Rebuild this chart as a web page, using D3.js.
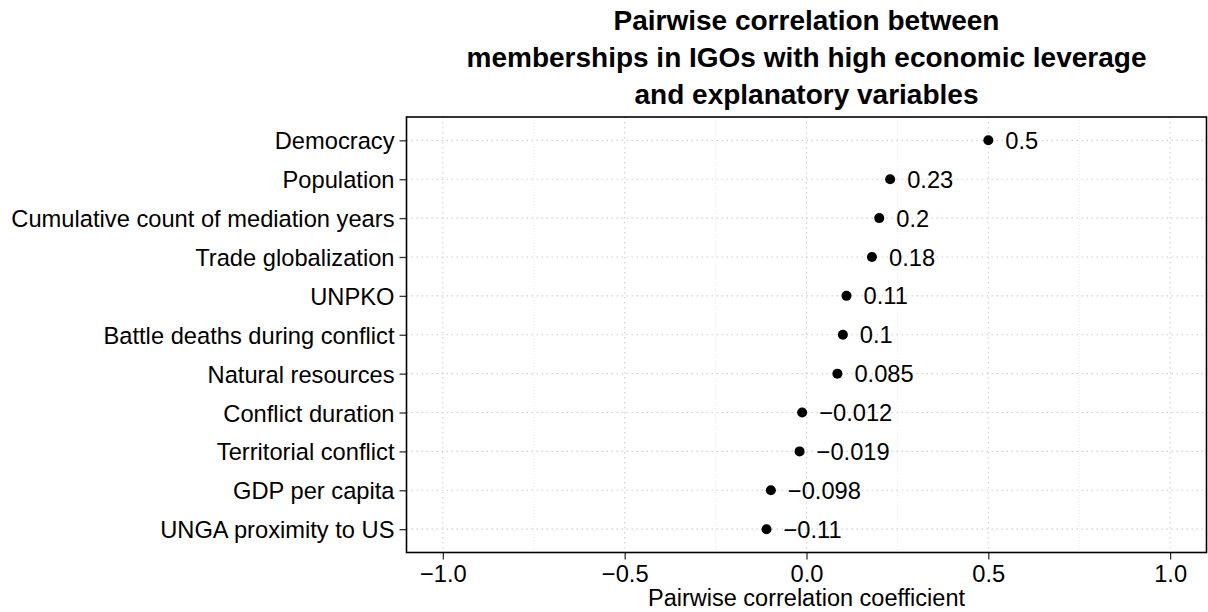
<!DOCTYPE html>
<html><head><meta charset="utf-8">
<script src="https://cdn.jsdelivr.net/npm/d3@7"></script>
<style>body{margin:0;background:#fff}svg{display:block}text{font-family:"Liberation Sans",Arial,sans-serif;fill:#000}</style>
</head><body><svg id="c" width="1208" height="612"></svg>
<script>
const categories = ["Democracy","Population","Cumulative count of mediation years","Trade globalization","UNPKO","Battle deaths during conflict","Natural resources","Conflict duration","Territorial conflict","GDP per capita","UNGA proximity to US"];
const values = [0.5,0.23,0.2,0.18,0.11,0.1,0.085,-0.012,-0.019,-0.098,-0.11];
const valueLabels = ["0.5","0.23","0.2","0.18","0.11","0.1","0.085","\u22120.012","\u22120.019","\u22120.098","\u22120.11"];
const xTicks = [-1,-0.5,0,0.5,1];
const xMinor = [-0.75,-0.25,0.25,0.75];
const titleLines = ["Pairwise correlation between","memberships in IGOs with high economic leverage","and explanatory variables"];
const xTitle = "Pairwise correlation coefficient";

const svg = d3.select("#c");
const L=406.5, R=1206.5, T=117, B=552.5;
const x = d3.scaleLinear().domain([-1.1,1.1]).range([L,R]);
const y = d3.scalePoint().domain(categories).range([T,B]).padding(0.6);

// gridlines
const g = svg.append("g");
g.selectAll(".vmin").data(xMinor).join("line").attr("x1",d=>x(d)).attr("x2",d=>x(d)).attr("y1",T).attr("y2",B)
 .attr("stroke","#e3e3e3").attr("stroke-width",0.8).attr("stroke-dasharray","1,2");
g.selectAll(".vmaj").data(xTicks).join("line").attr("x1",d=>x(d)).attr("x2",d=>x(d)).attr("y1",T).attr("y2",B)
 .attr("stroke","#d0d0d0").attr("stroke-width",1.1).attr("stroke-dasharray","1.5,3.5");
g.selectAll(".h").data(categories).join("line").attr("x1",L).attr("x2",R).attr("y1",d=>y(d)).attr("y2",d=>y(d))
 .attr("stroke","#d0d0d0").attr("stroke-width",1.1).attr("stroke-dasharray","1.5,3.5");

// points
svg.selectAll("circle.pt").data(categories).join("circle").attr("class","pt")
 .attr("cx",(d,i)=>x(values[i])).attr("cy",d=>y(d)).attr("r",5).attr("fill","#000");
svg.selectAll("text.lab").data(categories).join("text").attr("class","lab")
 .attr("x",(d,i)=>x(values[i])+17).attr("y",d=>y(d)).attr("dy","0.36em")
 .style("font-size","23.7px").text((d,i)=>valueLabels[i]);

// axes
const xa = svg.append("g").attr("transform",`translate(0,${B})`)
 .call(d3.axisBottom(x).tickValues(xTicks).tickFormat(d=>d3.format(".1f")(d).replace("-","\u2212")).tickSize(7).tickPadding(6));
const ya = svg.append("g").attr("transform",`translate(${L},0)`)
 .call(d3.axisLeft(y).tickSize(7).tickPadding(5));
[xa,ya].forEach(a=>{a.select(".domain").remove();a.selectAll(".tick line").attr("stroke","#333").attr("stroke-width",1.3);
 a.selectAll("text").style("font-size","23.7px").attr("fill","#000").style("font-family","'Liberation Sans',Arial,sans-serif");});
xa.selectAll("text").attr("dy","0.71em");
ya.selectAll("text").attr("dy","0.36em");

// panel border
svg.append("rect").attr("x",L).attr("y",T).attr("width",R-L).attr("height",B-T).attr("fill","none").attr("stroke","#000").attr("stroke-width",1.6);

// titles
svg.append("text").attr("x",(L+R)/2).attr("y",606).attr("text-anchor","middle").style("font-size","23.5px").text(xTitle);
titleLines.forEach((t,i)=>svg.append("text").attr("x",(L+R)/2).attr("y",30+i*37).attr("text-anchor","middle")
 .style("font-size","28px").style("font-weight","bold").text(t));
</script></body></html>
